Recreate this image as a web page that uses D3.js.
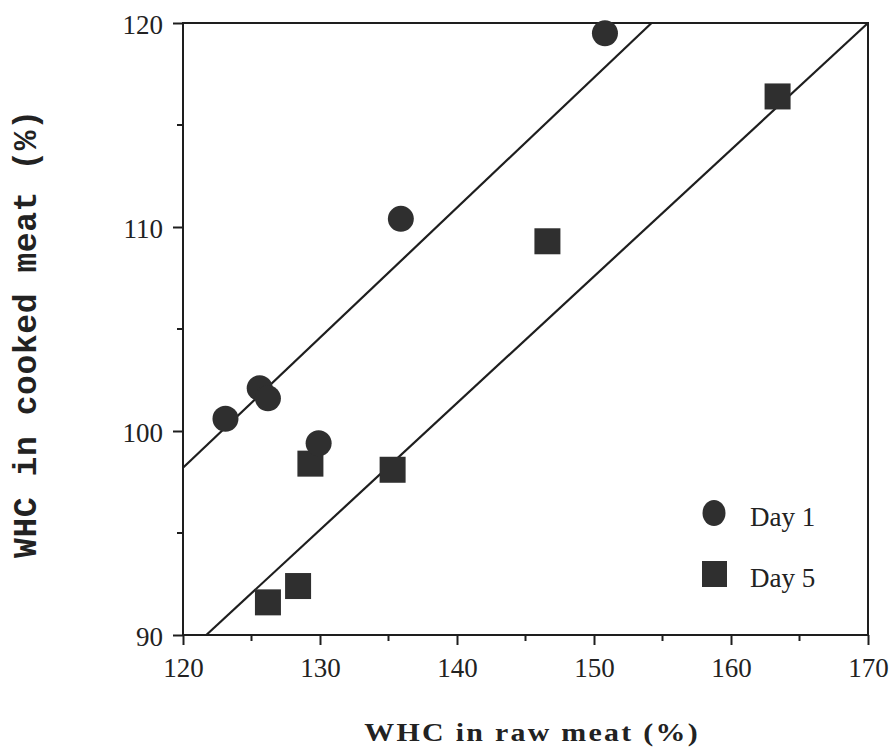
<html><head><meta http-equiv="Content-Type" content="text/html; charset=UTF-8"><title>WHC raw vs cooked</title>
<script src="https://cdn.jsdelivr.net/npm/d3@7/dist/d3.min.js"></script>
<style>
	body	{ margin:0; background:#fff; }
	svg	{ display:block; }
	.tick text { font-family:"Liberation Serif","Times New Roman",serif; font-size:27px; fill:#222; }
	.lbl	{ font-family:"Liberation Serif","Times New Roman",serif; font-size:27px; fill:#222; }
</style>
</head><body>
<svg width="890" height="754"></svg>
<script>
// day 1 points (raw %, cooked %)
var day1X=[123.1,125.6,126.2,129.9,135.9,150.8];
var day1Y=[100.6,102.1,101.6,99.4,110.4,119.5];
// day 5 points
var day5X=[126.2,128.4,129.3,135.3,146.6,163.4];
var day5Y=[91.6,92.4,98.4,98.1,109.3,116.4];
// fitted lines, end points
var fit1=[[120,98.2],[154.2,120]];
var fit5=[[121.7,90],[170,120]];
var xTicks=[120,130,140,150,160,170], yTicks=[90,100,110,120];
var legend=["Day 1","Day 5"];

var svg=d3.select('svg');
var L=183,R=868,T=23,B=635;
var x=d3.scaleLinear().domain([120,170]).range([L,R]);
var y=d3.scaleLinear().domain([90,120]).range([B,T]);
var ink='#1e1e1e', dot='#2f2f2f';

// minor ticks
var xMinor=d3.range(125,170,10), yMinor=d3.range(95,120,10);
svg.append('g').selectAll('line').data(xMinor).join('line')
	.attr('x1',d=>x(d)).attr('x2',d=>x(d)).attr('y1',B).attr('y2',B+6)
	.attr('stroke',ink).attr('stroke-width',2);
svg.append('g').selectAll('line').data(yMinor).join('line')
	.attr('y1',d=>y(d)).attr('y2',d=>y(d)).attr('x1',L).attr('x2',L-6)
	.attr('stroke',ink).attr('stroke-width',2);

var gx=svg.append('g').attr('transform','translate(0,'+B+')')
	.call(d3.axisBottom(x).tickValues(xTicks).tickSize(10).tickPadding(8).tickFormat(d3.format('d')));
var gy=svg.append('g').attr('transform','translate('+L+',0)')
	.call(d3.axisLeft(y).tickValues(yTicks).tickSize(10).tickPadding(10).tickFormat(d3.format('d')));
[gx,gy].forEach(function(g){
	g.select('.domain').remove();
	g.selectAll('.tick line').attr('stroke',ink).attr('stroke-width',2);
});
gx.selectAll('.tick text').attr('dy','0.9em');
gy.selectAll('.tick text').attr('dy','0.38em');

// frame
svg.append('rect').attr('x',L).attr('y',T).attr('width',R-L).attr('height',B-T)
	.attr('fill','none').attr('stroke',ink).attr('stroke-width',2);

// fit lines
var line=d3.line().x(d=>x(d[0])).y(d=>y(d[1]));
[fit1,fit5].forEach(function(f){
	svg.append('path').attr('d',line(f)).attr('fill','none').attr('stroke',ink).attr('stroke-width',2.2);
});

// markers
svg.append('g').selectAll('rect').data(d3.range(day5X.length)).join('rect')
	.attr('x',i=>x(day5X[i])-13).attr('y',i=>y(day5Y[i])-13)
	.attr('width',26).attr('height',26).attr('fill',dot);
svg.append('g').selectAll('circle').data(d3.range(day1X.length)).join('circle')
	.attr('cx',i=>x(day1X[i])).attr('cy',i=>y(day1Y[i])).attr('r',13).attr('fill',dot);

// legend
svg.append('ellipse').attr('cx',714).attr('cy',513).attr('rx',11.5).attr('ry',13).attr('fill',dot);
svg.append('rect').attr('x',702).attr('y',561).attr('width',25).attr('height',26).attr('fill',dot);
svg.append('text').attr('class','lbl').attr('x',750).attr('y',526).text(legend[0]);
svg.append('text').attr('class','lbl').attr('x',750).attr('y',587).text(legend[1]);

// axis titles (the x title is set in a wide face in the original, so stretch it a bit)
svg.append('text').attr('transform','translate(531,741) scale(1.15,1)').attr('text-anchor','middle')
	.attr('textLength',290).attr('lengthAdjust','spacing')
	.style('font-family','"Liberation Serif","Times New Roman",serif').style('font-weight','bold')
	.style('font-size','26px').style('fill','#222').text('WHC in raw meat (%)');
svg.append('text').attr('transform','translate(36,334) rotate(-90)').attr('text-anchor','middle')
	.attr('textLength',448).attr('lengthAdjust','spacing')
	.style('font-family','"Liberation Mono","Courier New",monospace').style('font-weight','bold')
	.style('font-size','33px').style('fill','#222').text('WHC in cooked meat (%)');
</script>
</body></html>
